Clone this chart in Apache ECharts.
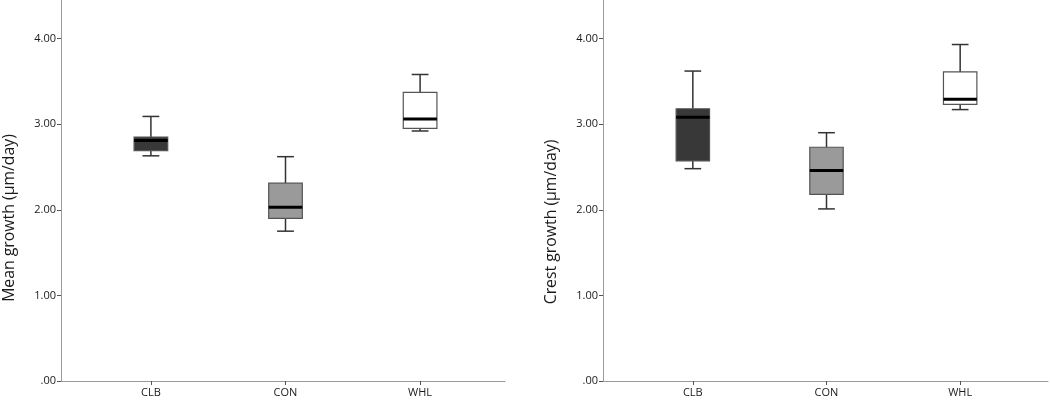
<!DOCTYPE html>
<html>
<head>
<meta charset="utf-8">
<script src="https://cdn.jsdelivr.net/npm/echarts@6/dist/echarts.min.js"></script>
<style>html,body{margin:0;padding:0;background:#fff}#c{width:1050px;height:401px}</style>
</head>
<body>
<div id="c"></div>
<script>
// Categories
const categories = ['CLB', 'CON', 'WHL'];
// Box statistics: [min, Q1, median, Q3, max]
const meanGrowth = [
  [2.63, 2.69, 2.81, 2.85, 3.09],
  [1.75, 1.90, 2.03, 2.31, 2.62],
  [2.92, 2.95, 3.06, 3.37, 3.58]
];
const crestGrowth = [
  [2.48, 2.57, 3.08, 3.18, 3.62],
  [2.01, 2.18, 2.46, 2.73, 2.90],
  [3.17, 3.23, 3.29, 3.61, 3.93]
];
const boxFills = ['#383838', '#9a9a9a', '#ffffff'];
const yTicks = [0, 1, 2, 3, 4];
const yMax = 4.45;
const leftName = 'Mean growth (µm/day)';
const rightName = 'Crest growth (µm/day)';

const FONT = 'Open Sans';
const axisGray = '#9a9a9a';

function fmt(v) { return v === 0 ? '.00' : v.toFixed(2); }

function renderBox(params, api) {
  const i = api.value(0);
  const vals = [api.value(1), api.value(2), api.value(3), api.value(4), api.value(5)];
  const band = api.size([1, 0])[0];
  const bw = band * 0.25;
  const cw = bw * 0.5;
  const pMin = api.coord([i, vals[0]]);
  const pQ1 = api.coord([i, vals[1]]);
  const pMed = api.coord([i, vals[2]]);
  const pQ3 = api.coord([i, vals[3]]);
  const pMax = api.coord([i, vals[4]]);
  const x = pMed[0];
  const lineStyle = { stroke: '#333', lineWidth: 1.5, fill: null };
  return {
    type: 'group',
    children: [
      { type: 'line', shape: { x1: x, y1: pQ3[1], x2: x, y2: pMax[1] }, style: lineStyle },
      { type: 'line', shape: { x1: x, y1: pQ1[1], x2: x, y2: pMin[1] }, style: lineStyle },
      { type: 'line', shape: { x1: x - cw / 2, y1: pMax[1], x2: x + cw / 2, y2: pMax[1] }, style: lineStyle },
      { type: 'line', shape: { x1: x - cw / 2, y1: pMin[1], x2: x + cw / 2, y2: pMin[1] }, style: lineStyle },
      { type: 'rect', shape: { x: x - bw / 2, y: pQ3[1], width: bw, height: pQ1[1] - pQ3[1] },
        style: { fill: boxFills[i], stroke: '#555', lineWidth: 1.2 } },
      { type: 'line', shape: { x1: x - bw / 2, y1: pMed[1], x2: x + bw / 2, y2: pMed[1] },
        style: { stroke: '#000', lineWidth: 3 } }
    ]
  };
}

function toData(stats) {
  return stats.map((s, i) => [i].concat(s));
}

const frameY = (gi, show) => ({
  type: 'value', gridIndex: gi, min: 0, max: yMax, interval: 1,
  axisLine: { show: show, lineStyle: { color: axisGray, width: 1 } },
  axisTick: { show: show, inside: false, length: 4, lineStyle: { color: '#555' }, customValues: yTicks },
  axisLabel: { show: show, margin: 5, formatter: fmt, color: '#1a1a1a', fontFamily: FONT, fontSize: 11, customValues: yTicks },
  splitLine: { show: false }
});
const frameX = (gi) => ({
  type: 'value', gridIndex: gi, min: 0, max: 1,
  axisLine: { show: true, onZero: false, lineStyle: { color: axisGray, width: 1 } },
  axisTick: { show: false }, axisLabel: { show: false }, splitLine: { show: false }
});
const catX = (gi) => ({
  type: 'category', gridIndex: gi, data: categories, boundaryGap: true,
  axisLine: { show: false },
  axisTick: { show: true, alignWithLabel: true, length: 4, lineStyle: { color: '#555' } },
  axisLabel: { margin: 6, color: '#1a1a1a', fontFamily: FONT, fontSize: 11 },
  splitLine: { show: false }
});

const chart = echarts.init(document.getElementById('c'), null, { renderer: 'canvas' });
chart.setOption({
  backgroundColor: '#fff',
  animation: false,
  grid: [
    { left: 61, right: 545, top: 0, bottom: 20 },
    { left: 83.6, right: 562.6, top: 0, bottom: 20 },
    { left: 603, right: 2, top: 0, bottom: 20 },
    { left: 626, right: 23, top: 0, bottom: 20 }
  ],
  xAxis: [frameX(0), catX(1), frameX(2), catX(3)],
  yAxis: [frameY(0, true), frameY(1, false), frameY(2, true), frameY(3, false)],
  graphic: [
    { type: 'text', x: 9, y: 218, rotation: Math.PI / 2,
      style: { text: leftName, fill: '#1a1a1a', font: '15.8px "' + FONT + '"', align: 'center', verticalAlign: 'middle' } },
    { type: 'text', x: 551, y: 222, rotation: Math.PI / 2,
      style: { text: rightName, fill: '#1a1a1a', font: '15.8px "' + FONT + '"', align: 'center', verticalAlign: 'middle' } }
  ],
  series: [
    { type: 'custom', xAxisIndex: 1, yAxisIndex: 1, renderItem: renderBox, data: toData(meanGrowth), encode: { x: 0, y: [1, 2, 3, 4, 5] } },
    { type: 'custom', xAxisIndex: 3, yAxisIndex: 3, renderItem: renderBox, data: toData(crestGrowth), encode: { x: 0, y: [1, 2, 3, 4, 5] } }
  ]
});
</script>
</body>
</html>
